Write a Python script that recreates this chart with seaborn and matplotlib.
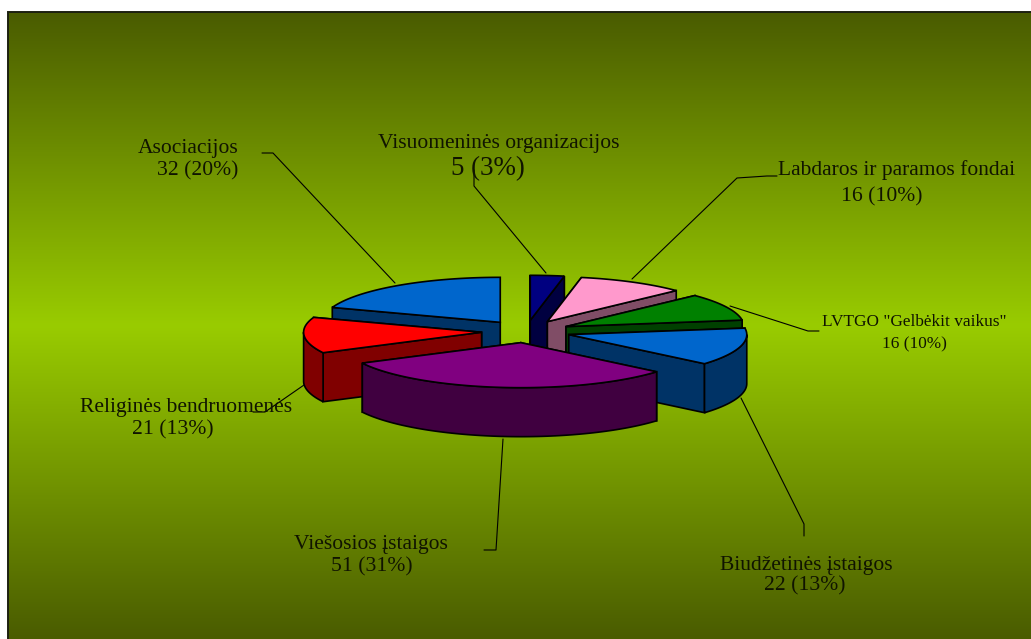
import numpy as np
import matplotlib
matplotlib.use("Agg")
import matplotlib.pyplot as plt
from matplotlib.patches import Polygon
from matplotlib.colors import LinearSegmentedColormap
import seaborn as sns

# ---- data ----
categories = ["Visuomeninės organizacijos", "Labdaros ir paramos fondai",
              'LVTGO "Gelbėkit vaikus"', "Biudžetinės įstaigos",
              "Viešosios įstaigos", "Religinės bendruomenės", "Asociacijos"]
values = [5, 16, 16, 22, 51, 21, 32]
top_colors = ["#000080", "#ff99cc", "#008000", "#0066cc", "#800080", "#ff0000", "#0066cc"]

# ---- layout / style ----
W, H = 1031, 639
CX, CY, RX, RY, DEPTH = 526, 331.5, 178, 45, 49
EXPLODE = 0.25
draw_order = [6, 0, 1, 2, 5, 3, 4]
name_pos = [(498.5, 143.5, 21.5), (897, 170.5, 21.5), (914, 322, 17.2), (806, 565.5, 21.5),
            (370.5, 544.5, 21.5), (186, 407.5, 21.5), (188.5, 148.5, 21.5)]
count_pos = [(488, 168.5, 27), (882, 196.5, 21.7), (914, 344, 17.2), (805, 585.5, 21.7),
             (372, 566.5, 21.7), (173, 429.5, 21.7), (198, 170.5, 21.7)]
leaders = [[(474, 170), (474, 186), (546, 273)],
           [(777, 176), (767, 176), (737, 178), (632, 279)],
           [(819, 331), (808, 331), (730, 306)],
           [(804, 536), (804, 524), (741, 398)],
           [(484, 550), (496, 550), (503, 439)],
           [(253, 412), (265, 412), (304, 385)],
           [(262, 153), (273, 153), (395, 283)]]

sns.set_theme(style="white")
plt.rcParams["font.family"] = ["Liberation Serif", "DejaVu Serif"]
palette = sns.color_palette(top_colors)

fig = plt.figure(figsize=(W / 100, H / 100), dpi=100, facecolor="white")
ax = fig.add_axes([0, 0, 1, 1])
ax.axis("off")

# background gradient panel
cmap = LinearSegmentedColormap.from_list("bg", ["#4a5c00", "#99cc00", "#4a5c00"])
ax.imshow(np.linspace(0, 1, 256)[:, None], extent=(8, W, H, 12), cmap=cmap,
          aspect="auto", zorder=0)
ax.set_xlim(0, W)
ax.set_ylim(H, 0)
ax.plot([8, 8, W], [H, 12, 12], color="#1c2010", lw=1.4, zorder=1, solid_joinstyle="miter")

total = sum(values)
angles = np.concatenate([[0], np.cumsum(values)]) / total * 2 * np.pi
LW = 1.2


def rim(ax0, ay0, t):
    return np.column_stack([ax0 + RX * np.sin(t), ay0 - RY * np.cos(t)])


z = 5
for i in draw_order:
    a0, a1 = angles[i], angles[i + 1]
    mid = (a0 + a1) / 2
    ax0 = CX + EXPLODE * RX * np.sin(mid)
    ay0 = CY - EXPLODE * RY * np.cos(mid)
    top = np.array(palette[i])
    side = top * 0.5
    apex = np.array([[ax0, ay0]])
    down = np.array([0, DEPTH])
    # radial walls, the one further back first
    for a in sorted((a0, a1), key=lambda v: -np.cos(v)):
        p = rim(ax0, ay0, a)
        poly = np.vstack([apex, p, p + down, apex + down])
        ax.add_patch(Polygon(poly, closed=True, fc=side, ec="black", lw=LW, zorder=z))
        z += 1
    # visible part of the outer wall
    lo, hi = max(a0, np.pi / 2), min(a1, 3 * np.pi / 2)
    if hi > lo:
        t = np.linspace(lo, hi, 80)
        p = rim(ax0, ay0, t)
        poly = np.vstack([p, (p + down)[::-1]])
        ax.add_patch(Polygon(poly, closed=True, fc=side, ec="black", lw=LW, zorder=z))
        z += 1
    # top face
    t = np.linspace(a0, a1, 120)
    poly = np.vstack([apex, rim(ax0, ay0, t)])
    ax.add_patch(Polygon(poly, closed=True, fc=top, ec="black", lw=LW, zorder=z))
    z += 1

# leader lines
for pts in leaders:
    xs, ys = zip(*pts)
    ax.plot(xs, ys, color="black", lw=0.8, zorder=z)
z += 1

# labels
for i, name in enumerate(categories):
    x, y, s = name_pos[i]
    ax.text(x, y, name, ha="center", va="center", fontsize=s * 0.72, color="#101400", zorder=z)
    x, y, s = count_pos[i]
    pct = round(values[i] / total * 100)
    ax.text(x, y, f"{values[i]} ({pct}%)", ha="center", va="center", fontsize=s * 0.72,
            color="#101400", zorder=z)

fig.savefig("out.png", dpi=100, facecolor="white")
